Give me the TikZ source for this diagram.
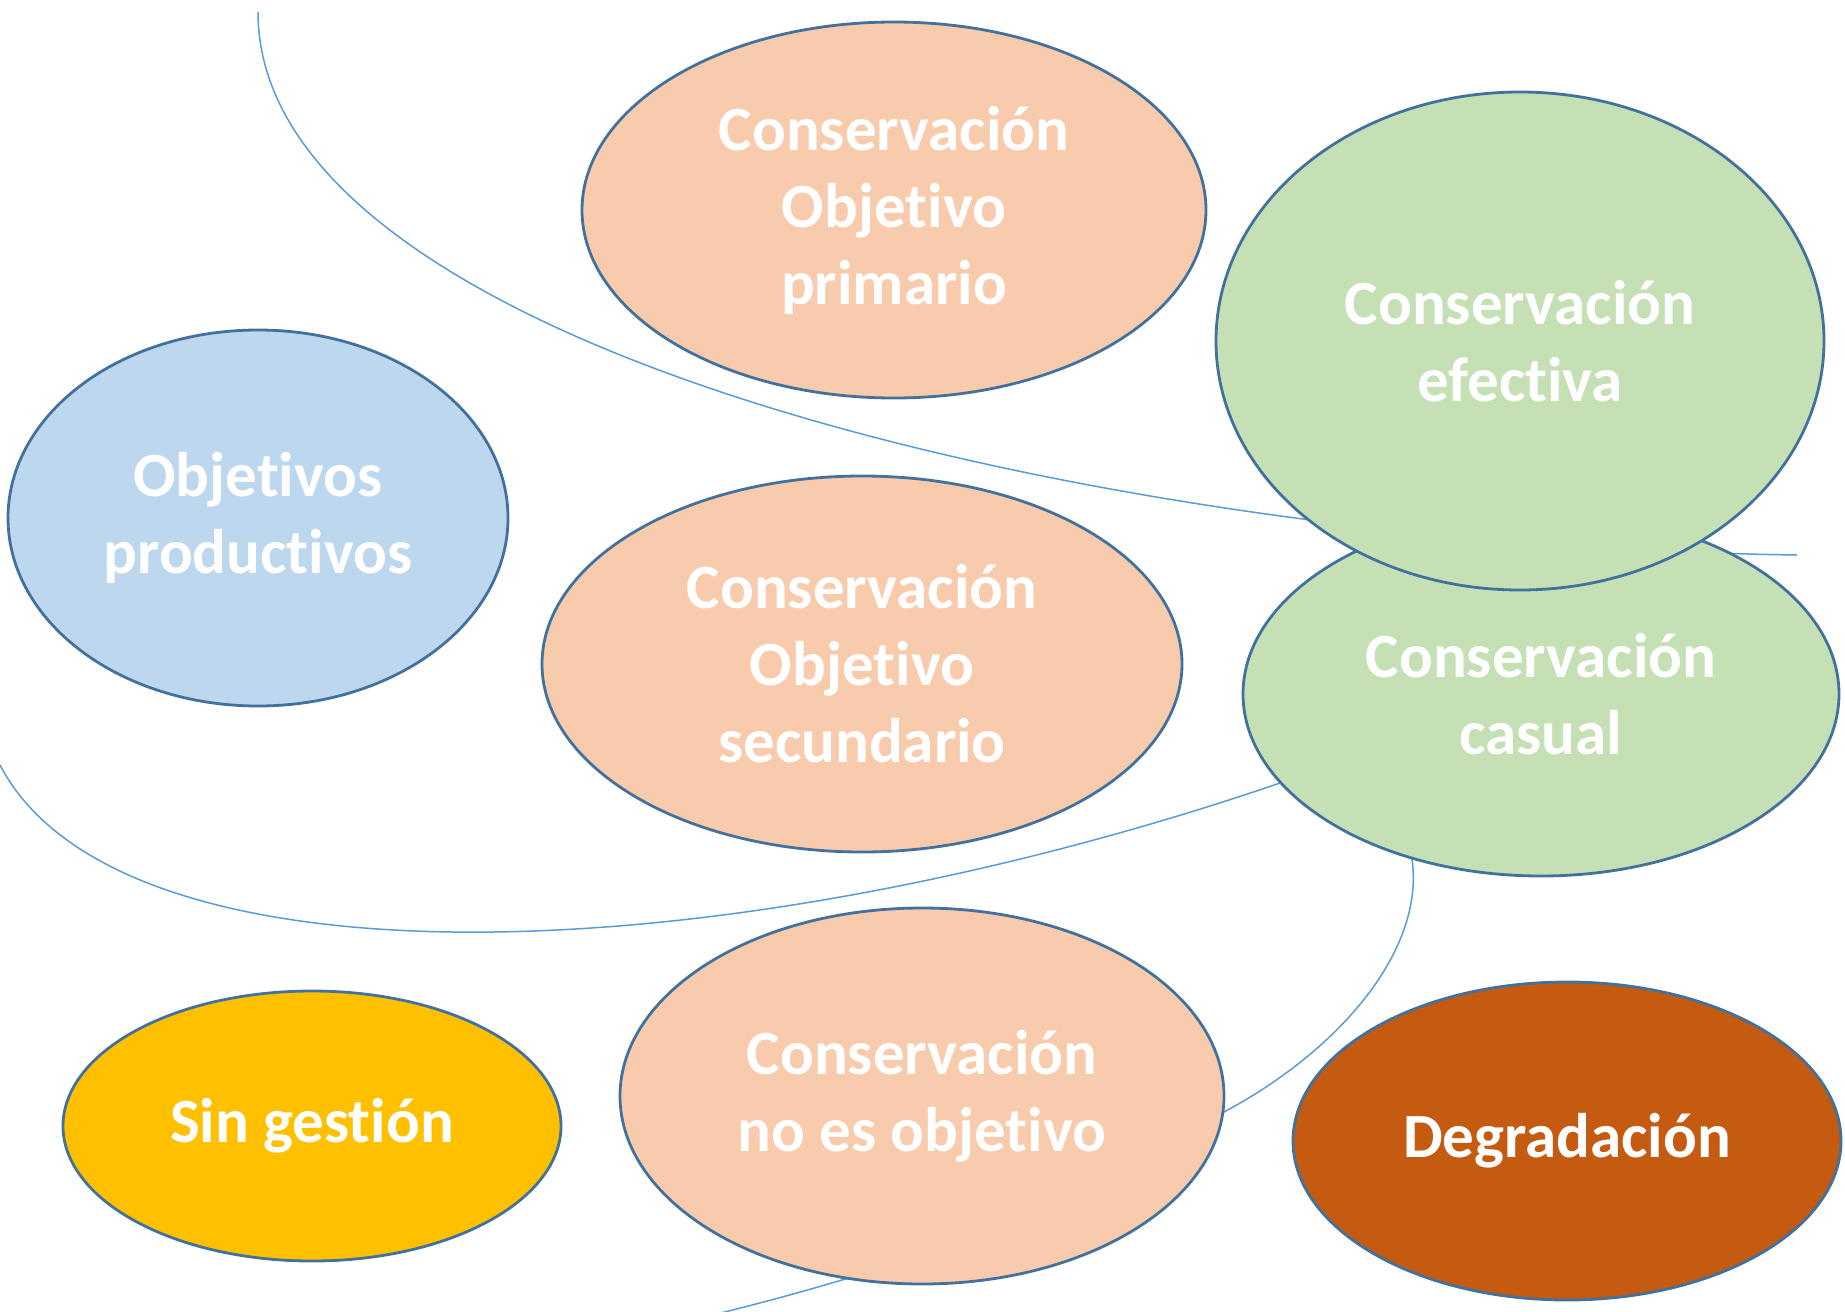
\documentclass[tikz,border=0pt]{standalone}
\usepackage{fontspec}
\setmainfont[Ligatures=NoCommon]{Carlito}
\usetikzlibrary{shapes.geometric}
\definecolor{borde}{HTML}{41719C}
\definecolor{linea}{HTML}{5B9BD5}
\definecolor{salmon}{HTML}{F8CBAD}
\definecolor{verde}{HTML}{C5E0B4}
\definecolor{azul}{HTML}{BDD7EE}
\definecolor{oro}{HTML}{FFC000}
\definecolor{ocre}{HTML}{C55A11}
\begin{document}
\begin{tikzpicture}[x=1pt, y=-1pt]
        \tikzstyle{zona} = [ellipse, draw=borde, line width=2.8pt, inner sep=0pt, text=white, align=center, font=\bfseries\fontsize{63}{77}\selectfont]
        \tikzstyle{traza} = [draw=linea, line width=1.5pt]
        \useasboundingbox (0,0) rectangle (1845,1312);
        \clip (0,0) rectangle (1845,1312);
        % lineas de fondo
        \coordinate (p1) at (258,12);
        \coordinate (p2) at (1797,555);
        \coordinate (q1) at (0,765);
        \coordinate (q2) at (1283,782);
        \coordinate (q3) at (1412,859);
        \coordinate (q4) at (1224,1112);
        \coordinate (q5) at (700,1318);
        \draw[traza] (p1) .. controls (258,350) and (1100,545) .. (p2);
        \draw[traza] (q1) .. controls (120,995) and (720,975) .. (q2)
                .. controls (1420,740) and (1420,800) .. (q3)
                .. controls (1425,950) and (1340,1050) .. (q4)
                .. controls (1100,1200) and (900,1270) .. (q5);
        % zonas
        \node (prim) [zona, fill=salmon, minimum width=624, minimum height=376] at (894,210) {Conservación\\Objetivo\\primario};
        \node (prod) [zona, fill=azul, minimum width=500, minimum height=376] at (258,518) {Objetivos\\productivos};
        \node (secu) [zona, fill=salmon, minimum width=640, minimum height=376] at (862,664) {Conservación\\Objetivo\\secundario};
        \node (casu) [zona, fill=verde, minimum width=596, minimum height=364] at (1541,694) {Conservación\\casual};
        \node (efec) [zona, fill=verde, minimum width=608, minimum height=498] at (1520,341) {Conservación\\efectiva};
        \node (sing) [zona, fill=oro, minimum width=498, minimum height=270] at (312,1126) {Sin gestión};
        \node (noes) [zona, fill=salmon, minimum width=604, minimum height=376] at (922,1096) {Conservación\\no es objetivo};
        \node (degr) [zona, fill=ocre, minimum width=548, minimum height=318] at (1567,1141) {Degradación};
    \end{tikzpicture}
\end{document}
